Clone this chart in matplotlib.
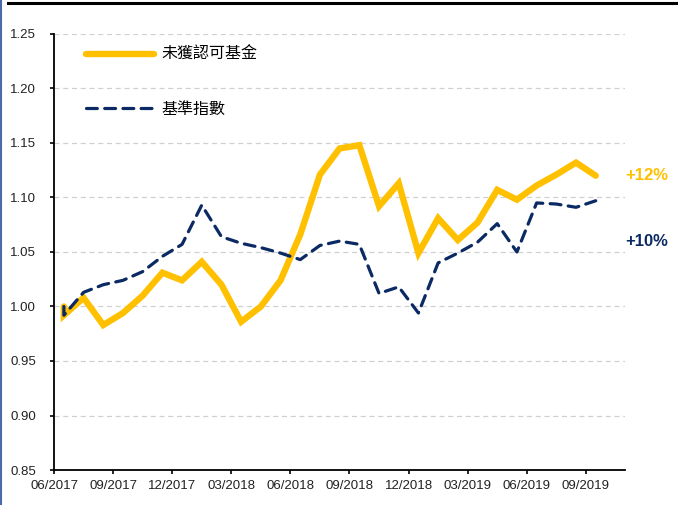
import matplotlib
matplotlib.use("Agg")
import matplotlib.pyplot as plt
from matplotlib.lines import Line2D

plt.rcParams["font.family"] = ["Noto Sans CJK TC", "DejaVu Sans"]

YELLOW, NAVY = "#FFC000", "#0B2A63"

# month index: 0 = 06/2017 tick, points sit at month ends (x.5)
months = [0.5, 0.5] + [i + 0.5 for i in range(1, 28)]
fund = [1.000, 0.992, 1.008, 0.983, 0.994, 1.010, 1.031, 1.024, 1.041, 1.020,
        0.986, 1.000, 1.024, 1.066, 1.121, 1.145, 1.148, 1.092, 1.113, 1.049,
        1.081, 1.061, 1.077, 1.107, 1.098, 1.111, 1.121, 1.132, 1.120]
bench = [1.000, 0.992, 1.013, 1.020, 1.024, 1.032, 1.046, 1.057, 1.093, 1.064,
         1.058, 1.054, 1.049, 1.043, 1.056, 1.060, 1.057, 1.012, 1.018, 0.994,
         1.040, 1.049, 1.059, 1.076, 1.050, 1.095, 1.094, 1.091, 1.097]
tick_pos = [0, 3, 6, 9, 12, 15, 18, 21, 24, 27]
tick_labels = ["06/2017", "09/2017", "12/2017", "03/2018", "06/2018",
               "09/2018", "12/2018", "03/2019", "06/2019", "09/2019"]
y_ticks = [0.85, 0.90, 0.95, 1.00, 1.05, 1.10, 1.15, 1.20, 1.25]
labels = ["未獲認可基金", "基準指數"]
end_tags = ["+12%", "+10%"]

fig = plt.figure(figsize=(6.78, 5.05), dpi=100)
ax = fig.add_axes([0.0797, 0.0693, 0.8425, 0.8634])

ax.plot(months, fund, color=YELLOW, lw=4.6, solid_joinstyle="miter",
        solid_capstyle="round", zorder=3)
ax.plot(months, bench, color=NAVY, lw=2.3, dashes=(3.4, 2.3),
        dash_capstyle="round", zorder=4)

ax.set_xlim(0, 29)
ax.set_ylim(0.85, 1.25)
ax.set_yticks(y_ticks)
ax.set_yticklabels([f"{v:.2f}" for v in y_ticks])
ax.set_xticks(tick_pos)
ax.set_xticklabels(tick_labels)
ax.tick_params(labelsize=9.5, length=3, width=1.2, colors="black",
               labelcolor="#222222", labelfontfamily="Liberation Sans")
ax.tick_params(axis="y", pad=10)
ax.tick_params(axis="x", pad=4.5)
for v in y_ticks[1:]:
    ax.axhline(v, color="#d0d0d0", lw=0.9, ls=(0, (4, 3)), zorder=1)
for s in ["top", "right"]:
    ax.spines[s].set_visible(False)
for s in ["left", "bottom"]:
    ax.spines[s].set_linewidth(1.3)

ax.legend(handles=[
    Line2D([0], [0], color=YELLOW, lw=4.6, solid_capstyle="round", label=labels[0]),
    Line2D([0], [0], color=NAVY, lw=2.3, dashes=(3.4, 2.3), dash_capstyle="round",
           label=labels[1]),
], loc="upper left", bbox_to_anchor=(0.03, 1.005), frameon=False,
    fontsize=11.5, handlelength=4.3, handletextpad=0.45, labelspacing=2.35)

ax.text(1.0, fund[-1], end_tags[0], transform=ax.get_yaxis_transform(),
        color=YELLOW, fontsize=12, fontweight="bold", va="center", ha="left",
        family="Liberation Sans")
ax.text(1.0, 1.060, end_tags[1], transform=ax.get_yaxis_transform(),
        color=NAVY, fontsize=12, fontweight="bold", va="center", ha="left",
        family="Liberation Sans")

# page decoration: thick rule at top, thin border at left
fig.add_artist(Line2D([0.012, 1.0], [0.995, 0.995], color="black", lw=2.2,
                      transform=fig.transFigure))
fig.add_artist(Line2D([0.002, 0.002], [0.0, 1.0], color="#4a6aa8", lw=1.5,
                      transform=fig.transFigure))

fig.savefig("out.png", dpi=100)
